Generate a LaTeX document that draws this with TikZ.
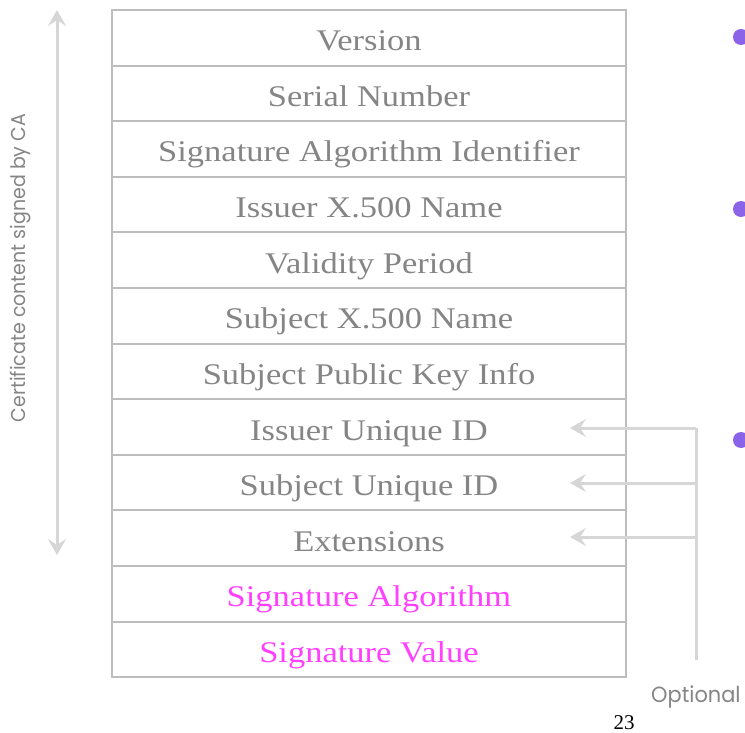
\documentclass[tikz,border=0pt]{standalone}
\usepackage{fontspec}
\setmainfont{Liberation Serif}[FakeStretch=1.15]
\newfontfamily\labelfont{Poppins}[FakeStretch=0.95]
\newfontfamily\pagefont{Liberation Serif}
\usetikzlibrary{arrows.meta}
\definecolor{rule}{HTML}{BDBDBD}
\definecolor{fieldtext}{HTML}{858585}
\definecolor{sigtext}{HTML}{FF40FF}
\definecolor{connector}{HTML}{D6D6D6}
\definecolor{bullet}{HTML}{8A63E8}
\tikzset{
  field/.style={draw=rule, line width=2pt, minimum width=514pt, minimum height=55.6pt,
    inner sep=0pt, text height=26pt, text depth=0pt, anchor=center,
    text=fieldtext, font=\fontsize{30}{32}\selectfont},
  sigfield/.style={field, text=sigtext},
  guide/.style={draw=connector, line width=3pt},
  guidetip/.style={-{Stealth[length=16pt,width=18pt,inset=6pt]}},
  sidelabel/.style={text=fieldtext, font=\labelfont\fontsize{20}{22}\selectfont, inner sep=0pt},
  dot/.style={circle, fill=bullet, minimum size=16pt, inner sep=0pt}
}
\begin{document}
\begin{tikzpicture}[x=1pt, y=-1pt]
  \useasboundingbox (0,0) rectangle (745,733);
  % certificate fields, top to bottom
  \foreach \name/\txt/\sty [count=\i from 0] in {
      v/Version/field,
      sn/Serial Number/field,
      sai/Signature Algorithm Identifier/field,
      iss/Issuer X.500 Name/field,
      val/Validity Period/field,
      sub/Subject X.500 Name/field,
      spk/Subject Public Key Info/field,
      iuid/Issuer Unique ID/field,
      suid/Subject Unique ID/field,
      ext/Extensions/field,
      sa/Signature Algorithm/sigfield,
      sv/Signature Value/sigfield}
    \node[\sty] (\name) at (369, {10 + 55.6*(\i + 0.5)}) {\txt};

  % span of the signed content
  \coordinate (signtop) at (57, 10);
  \coordinate (signbot) at (57, 555);
  \draw[guide, {Stealth[length=16pt,width=18pt,inset=6pt]}-{Stealth[length=16pt,width=18pt,inset=6pt]}]
    (signtop) -- (signbot);
  \node[sidelabel, rotate=90] (signlabel) at (21, 268) {Certificate content signed by CA};

  % optional fields bracket
  \coordinate (optbot) at (696, 660);
  \coordinate (optA) at (696, 428);
  \coordinate (optB) at (696, 483);
  \coordinate (optC) at (696, 537);
  \coordinate (tipA) at (570, 428);
  \coordinate (tipB) at (570, 483);
  \coordinate (tipC) at (570, 537);
  \draw[guide] (optbot) -- (optA);
  \draw[guide, guidetip] (optA) -- (tipA);
  \draw[guide, guidetip] (optB) -- (tipB);
  \draw[guide, guidetip] (optC) -- (tipC);
  \node[sidelabel, anchor=base west, font=\labelfont\fontsize{22}{24}\selectfont] (optlabel) at (651, 702) {Optional};

  % page number
  \node[font=\pagefont\fontsize{21}{23}\selectfont, anchor=base, inner sep=0pt] (pnum) at (624, 729) {23};

  % bullet marks at the edge
  \node[dot] (b1) at (741, 37) {};
  \node[dot] (b2) at (741, 209) {};
  \node[dot] (b3) at (741, 440) {};
\end{tikzpicture}
\end{document}
